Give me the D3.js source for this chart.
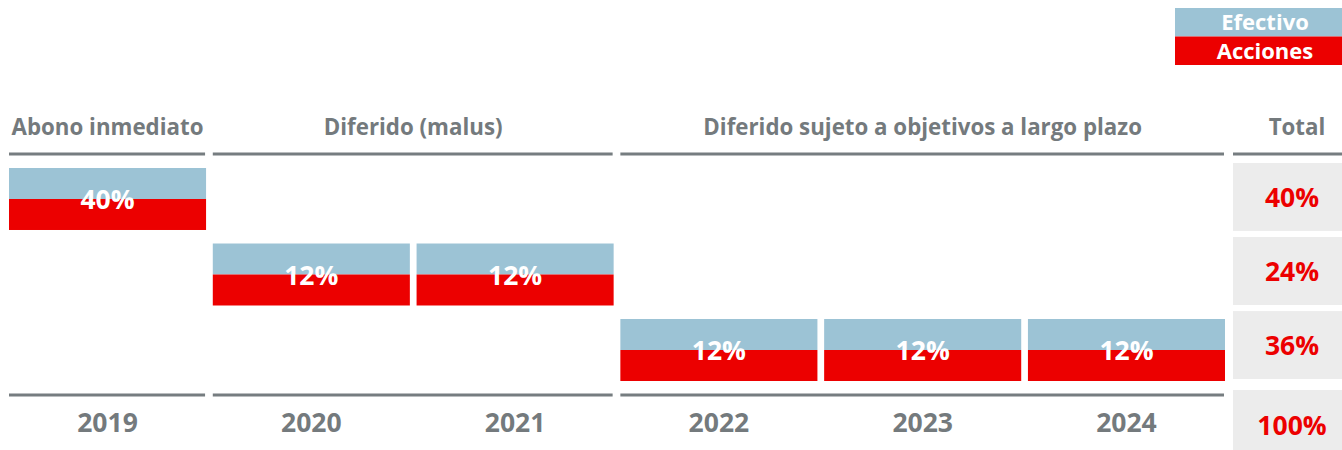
<!DOCTYPE html>
<html>
<head>
<meta charset="utf-8">
<script src="https://cdn.jsdelivr.net/npm/d3@7"></script>
<style>
  html, body { margin: 0; padding: 0; background: #fff; }
  svg { display: block; font-family: "Open Sans", "Noto Sans", sans-serif; }
</style>
</head>
<body>
<svg id="chart" width="1342" height="450"></svg>
<script>
// ---- data ----
const years = ["2019", "2020", "2021", "2022", "2023", "2024"];
const groups = ["Abono inmediato", "Diferido (malus)", "Diferido sujeto a objetivos a largo plazo"];
const yearGroup = ["Abono inmediato", "Diferido (malus)", "Diferido (malus)",
  "Diferido sujeto a objetivos a largo plazo", "Diferido sujeto a objetivos a largo plazo",
  "Diferido sujeto a objetivos a largo plazo"];
const payout = [40, 12, 12, 12, 12, 12];
const efectivo = [20, 6, 6, 6, 6, 6];
const acciones = [20, 6, 6, 6, 6, 6];
const groupTotals = [40, 24, 36];
const grandTotal = 100;
const seriesNames = ["Efectivo", "Acciones"];
const totalHeader = "Total";

// ---- styles ----
const BLUE = "#9cc3d5", RED = "#ec0000", GREY = "#747a7d", LINE = "#767d80", BOX = "#ececec";

const svg = d3.select("#chart");

const x = d3.scaleBand().domain(years).range([9, 1225]).paddingInner(0.033).paddingOuter(0);
const y = d3.scaleBand().domain(groups).range([168, 381]).paddingInner(0.179).paddingOuter(0);
const yTot = d3.scaleBand().domain(groups).range([163, 379]).paddingInner(0.083).paddingOuter(0);
const totX0 = 1233, totX1 = 1351;
const fmt = v => v + "%";

// header lines / group labels
const groupExtent = groups.map(g => {
  const ys = years.filter((yr, i) => yearGroup[i] === g);
  return { g, x0: x(ys[0]), x1: x(ys[ys.length - 1]) + x.bandwidth() };
});

const topY = 154, botY = 395;
[topY, botY].forEach(ly => {
  svg.append("g").selectAll("line").data(groupExtent).join("line")
    .attr("x1", d => d.x0).attr("x2", d => d.x1 - 1)
    .attr("y1", ly).attr("y2", ly)
    .attr("stroke", LINE).attr("stroke-width", 3);
});
svg.append("line").attr("x1", totX0).attr("x2", 1342).attr("y1", topY).attr("y2", topY)
  .attr("stroke", LINE).attr("stroke-width", 3);

svg.append("g").selectAll("text").data(groupExtent).join("text")
  .attr("x", d => (d.x0 + d.x1) / 2).attr("y", 135)
  .attr("text-anchor", "middle").attr("fill", GREY)
  .style("font-size", "22.3px").style("font-weight", 700)
  .text(d => d.g);
svg.append("text").attr("x", 1297).attr("y", 135).attr("text-anchor", "middle")
  .attr("fill", GREY).style("font-size", "22.3px").style("font-weight", 700).text(totalHeader);

// bars
const barData = years.map((yr, i) => ({ yr, g: yearGroup[i], total: payout[i], ef: efectivo[i], ac: acciones[i] }));
const bars = svg.append("g").selectAll("g").data(barData).join("g");
bars.append("rect")
  .attr("x", d => x(d.yr)).attr("width", x.bandwidth())
  .attr("y", d => y(d.g)).attr("height", d => y.bandwidth() * d.ef / d.total)
  .attr("fill", BLUE);
bars.append("rect")
  .attr("x", d => x(d.yr)).attr("width", x.bandwidth())
  .attr("y", d => y(d.g) + y.bandwidth() * d.ef / d.total)
  .attr("height", d => y.bandwidth() * d.ac / d.total)
  .attr("fill", RED);
bars.append("text")
  .attr("x", d => x(d.yr) + x.bandwidth() / 2)
  .attr("y", d => y(d.g) + y.bandwidth() / 2 + 10)
  .attr("text-anchor", "middle").attr("fill", "#fff")
  .style("font-size", "26.5px").style("font-weight", 700)
  .text(d => fmt(d.total));

// year labels
svg.append("g").selectAll("text").data(years).join("text")
  .attr("x", d => x(d) + x.bandwidth() / 2).attr("y", 432)
  .attr("text-anchor", "middle").attr("fill", GREY)
  .style("font-size", "26.5px").style("font-weight", 700)
  .text(d => d);

// total column
const totData = groups.map((g, i) => ({ g, v: groupTotals[i] }));
svg.append("g").selectAll("rect").data(totData).join("rect")
  .attr("x", totX0).attr("width", totX1 - totX0)
  .attr("y", d => yTot(d.g)).attr("height", yTot.bandwidth())
  .attr("fill", BOX);
svg.append("g").selectAll("text").data(totData).join("text")
  .attr("x", (totX0 + totX1) / 2).attr("y", d => yTot(d.g) + yTot.bandwidth() / 2 + 10)
  .attr("text-anchor", "middle").attr("fill", RED)
  .style("font-size", "26.5px").style("font-weight", 700)
  .text(d => fmt(d.v));
svg.append("rect").attr("x", totX0).attr("width", totX1 - totX0)
  .attr("y", 390).attr("height", 70).attr("fill", BOX);
svg.append("text").attr("x", (totX0 + totX1) / 2).attr("y", 435)
  .attr("text-anchor", "middle").attr("fill", RED)
  .style("font-size", "26.5px").style("font-weight", 700)
  .text(fmt(grandTotal));

// legend
const legY = d3.scaleBand().domain(seriesNames).range([8, 65]);
const legColor = d3.scaleOrdinal().domain(seriesNames).range([BLUE, RED]);
const leg = svg.append("g").selectAll("g").data(seriesNames).join("g");
leg.append("rect").attr("x", 1175).attr("width", 180)
  .attr("y", d => legY(d)).attr("height", legY.bandwidth())
  .attr("fill", d => legColor(d));
leg.append("text").attr("x", 1265).attr("y", d => legY(d) + legY.bandwidth() / 2 + 8)
  .attr("text-anchor", "middle").attr("fill", "#fff")
  .style("font-size", "22px").style("font-weight", 700)
  .text(d => d);
</script>
</body>
</html>
